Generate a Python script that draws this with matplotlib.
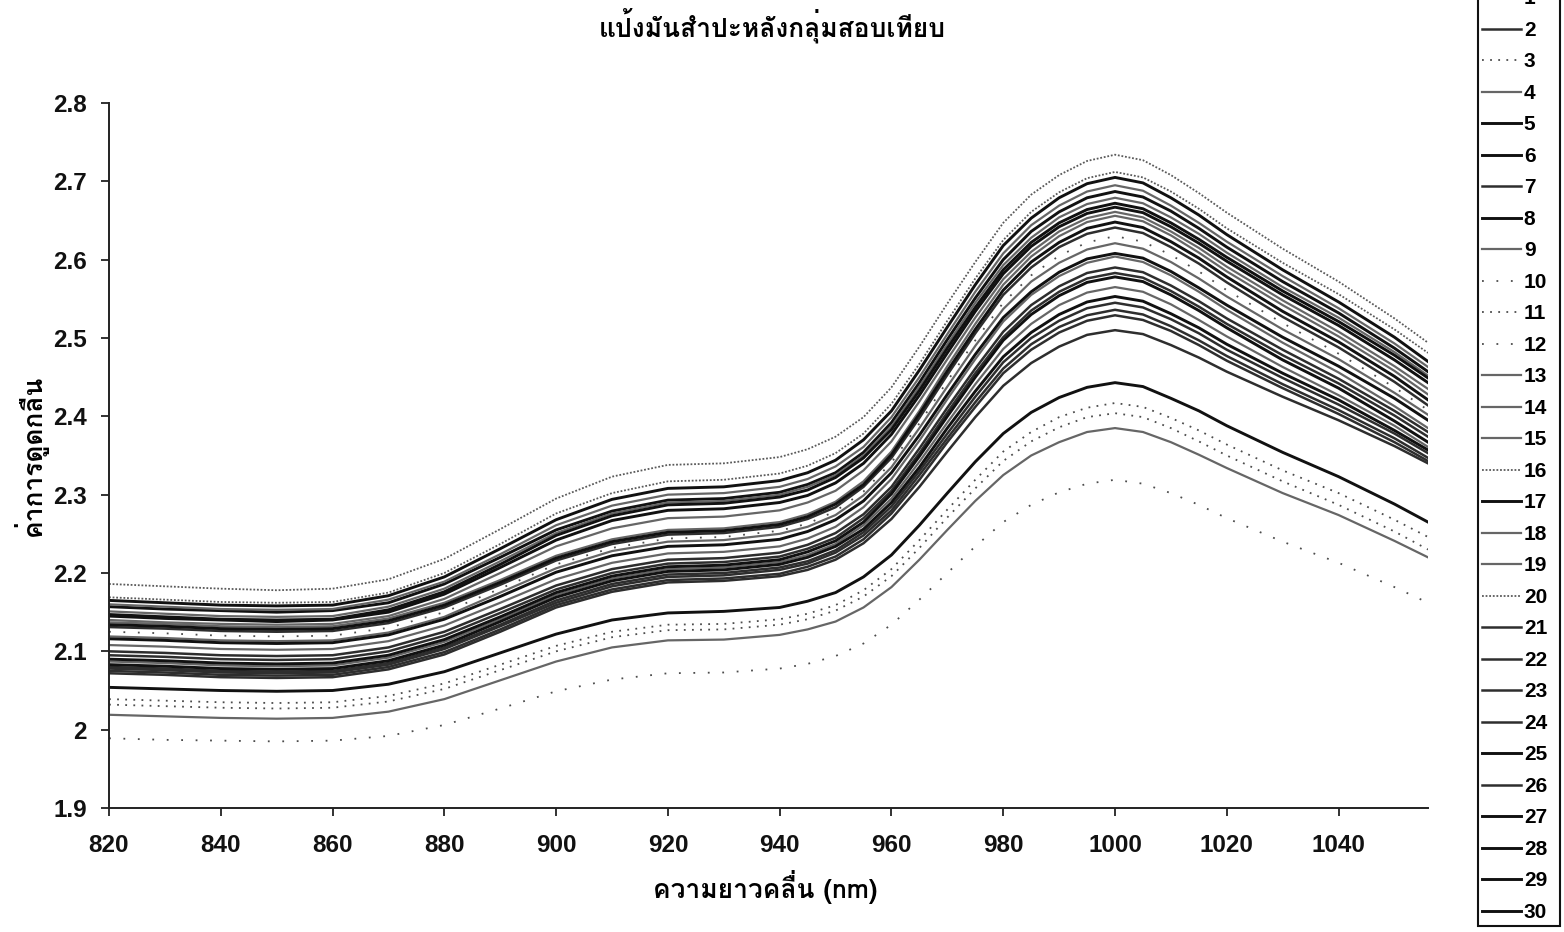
import matplotlib
matplotlib.use("Agg")
import matplotlib.pyplot as plt
from matplotlib import font_manager
from matplotlib.ft2font import FT2Font
from matplotlib.lines import Line2D
from matplotlib.ticker import MultipleLocator, FuncFormatter

# ความยาวคลื่น (nm)
wl = [820, 830, 840, 850, 860, 870, 880, 890, 900, 910, 920, 930, 940,
      945, 950, 955, 960, 965, 970, 975, 980, 985, 990, 995, 1000,
      1005, 1010, 1015, 1020, 1030, 1040, 1050, 1056]

# ค่าการดูดกลืนของแต่ละตัวอย่าง (อ่านจากกราฟ)
r1 = [2.140, 2.137, 2.135, 2.134, 2.135, 2.145, 2.167, 2.200, 2.234, 2.257, 2.270, 2.272, 2.280, 2.290, 2.305, 2.331, 2.368, 2.419, 2.473, 2.526, 2.575, 2.610, 2.636, 2.653, 2.661, 2.654, 2.636, 2.615, 2.591, 2.548, 2.508, 2.464, 2.435]
r2 = [2.078, 2.076, 2.073, 2.072, 2.073, 2.083, 2.103, 2.132, 2.162, 2.183, 2.195, 2.197, 2.204, 2.212, 2.226, 2.248, 2.280, 2.325, 2.372, 2.418, 2.461, 2.492, 2.514, 2.529, 2.536, 2.530, 2.515, 2.497, 2.477, 2.441, 2.408, 2.372, 2.347]
r3 = [2.039, 2.037, 2.035, 2.034, 2.035, 2.043, 2.059, 2.083, 2.107, 2.125, 2.134, 2.135, 2.141, 2.148, 2.159, 2.178, 2.205, 2.242, 2.281, 2.319, 2.355, 2.380, 2.399, 2.411, 2.417, 2.412, 2.398, 2.382, 2.364, 2.331, 2.302, 2.268, 2.246]
r4 = [2.019, 2.017, 2.015, 2.014, 2.015, 2.023, 2.039, 2.063, 2.087, 2.105, 2.114, 2.115, 2.121, 2.128, 2.138, 2.156, 2.182, 2.217, 2.255, 2.292, 2.325, 2.350, 2.367, 2.380, 2.385, 2.380, 2.367, 2.351, 2.334, 2.302, 2.274, 2.241, 2.220]
r5 = [2.165, 2.162, 2.159, 2.158, 2.159, 2.171, 2.195, 2.231, 2.268, 2.294, 2.308, 2.310, 2.318, 2.328, 2.344, 2.370, 2.407, 2.459, 2.514, 2.568, 2.618, 2.653, 2.679, 2.697, 2.705, 2.698, 2.679, 2.657, 2.632, 2.587, 2.546, 2.501, 2.470]
r6 = [2.145, 2.142, 2.140, 2.138, 2.140, 2.150, 2.173, 2.207, 2.242, 2.267, 2.280, 2.282, 2.290, 2.299, 2.315, 2.340, 2.377, 2.427, 2.481, 2.534, 2.582, 2.617, 2.642, 2.659, 2.667, 2.660, 2.642, 2.621, 2.598, 2.555, 2.516, 2.472, 2.443]
r7 = [2.100, 2.098, 2.095, 2.094, 2.095, 2.105, 2.125, 2.154, 2.184, 2.205, 2.217, 2.219, 2.226, 2.236, 2.251, 2.275, 2.310, 2.359, 2.411, 2.461, 2.508, 2.542, 2.566, 2.583, 2.590, 2.584, 2.567, 2.547, 2.525, 2.485, 2.448, 2.407, 2.380]
r8 = [2.157, 2.154, 2.152, 2.150, 2.152, 2.162, 2.186, 2.220, 2.255, 2.279, 2.293, 2.295, 2.303, 2.313, 2.328, 2.354, 2.392, 2.443, 2.498, 2.551, 2.600, 2.636, 2.661, 2.679, 2.687, 2.680, 2.662, 2.640, 2.616, 2.572, 2.532, 2.487, 2.457]
r9 = [2.151, 2.148, 2.145, 2.144, 2.145, 2.157, 2.180, 2.215, 2.251, 2.276, 2.290, 2.292, 2.300, 2.310, 2.325, 2.350, 2.387, 2.438, 2.492, 2.545, 2.593, 2.628, 2.654, 2.671, 2.679, 2.672, 2.654, 2.633, 2.609, 2.565, 2.526, 2.482, 2.452]
r10 = [2.125, 2.123, 2.120, 2.119, 2.120, 2.130, 2.150, 2.180, 2.211, 2.232, 2.244, 2.246, 2.254, 2.263, 2.279, 2.304, 2.341, 2.391, 2.445, 2.497, 2.545, 2.580, 2.605, 2.622, 2.630, 2.623, 2.606, 2.585, 2.561, 2.519, 2.480, 2.437, 2.408]
r11 = [2.032, 2.030, 2.028, 2.027, 2.028, 2.036, 2.052, 2.076, 2.100, 2.118, 2.127, 2.128, 2.134, 2.141, 2.152, 2.170, 2.196, 2.232, 2.271, 2.308, 2.343, 2.368, 2.386, 2.399, 2.404, 2.399, 2.385, 2.368, 2.350, 2.317, 2.287, 2.253, 2.230]
r12 = [1.989, 1.987, 1.986, 1.985, 1.986, 1.992, 2.006, 2.027, 2.049, 2.064, 2.072, 2.073, 2.078, 2.084, 2.094, 2.110, 2.134, 2.166, 2.200, 2.234, 2.265, 2.287, 2.303, 2.314, 2.319, 2.314, 2.302, 2.287, 2.270, 2.240, 2.213, 2.182, 2.162]
r13 = [2.137, 2.135, 2.132, 2.131, 2.132, 2.142, 2.162, 2.191, 2.222, 2.243, 2.255, 2.257, 2.265, 2.275, 2.291, 2.317, 2.355, 2.407, 2.464, 2.518, 2.568, 2.604, 2.630, 2.648, 2.656, 2.649, 2.631, 2.609, 2.585, 2.542, 2.502, 2.458, 2.428]
r14 = [2.160, 2.157, 2.154, 2.153, 2.154, 2.166, 2.189, 2.224, 2.261, 2.286, 2.300, 2.302, 2.310, 2.320, 2.336, 2.361, 2.399, 2.450, 2.505, 2.559, 2.608, 2.644, 2.669, 2.687, 2.695, 2.688, 2.669, 2.647, 2.623, 2.579, 2.538, 2.493, 2.463]
r15 = [2.108, 2.106, 2.103, 2.102, 2.103, 2.113, 2.133, 2.162, 2.192, 2.213, 2.225, 2.227, 2.234, 2.244, 2.259, 2.284, 2.320, 2.369, 2.422, 2.473, 2.521, 2.555, 2.579, 2.596, 2.604, 2.597, 2.580, 2.559, 2.536, 2.494, 2.456, 2.413, 2.385]
r16 = [2.186, 2.183, 2.180, 2.178, 2.180, 2.192, 2.218, 2.256, 2.295, 2.323, 2.338, 2.340, 2.348, 2.358, 2.374, 2.399, 2.437, 2.489, 2.544, 2.597, 2.647, 2.683, 2.708, 2.726, 2.734, 2.727, 2.708, 2.685, 2.660, 2.614, 2.572, 2.525, 2.494]
r17 = [2.054, 2.052, 2.050, 2.049, 2.050, 2.058, 2.074, 2.098, 2.122, 2.140, 2.149, 2.151, 2.156, 2.164, 2.175, 2.195, 2.223, 2.261, 2.302, 2.342, 2.378, 2.405, 2.424, 2.437, 2.443, 2.438, 2.423, 2.407, 2.388, 2.354, 2.323, 2.288, 2.265]
r18 = [2.119, 2.117, 2.114, 2.113, 2.114, 2.124, 2.144, 2.175, 2.206, 2.228, 2.240, 2.242, 2.250, 2.259, 2.274, 2.299, 2.335, 2.385, 2.438, 2.490, 2.537, 2.572, 2.596, 2.613, 2.621, 2.614, 2.597, 2.576, 2.553, 2.511, 2.473, 2.430, 2.402]
r19 = [2.087, 2.085, 2.082, 2.081, 2.082, 2.092, 2.112, 2.141, 2.172, 2.193, 2.205, 2.207, 2.214, 2.223, 2.237, 2.261, 2.295, 2.342, 2.392, 2.441, 2.486, 2.518, 2.542, 2.558, 2.565, 2.559, 2.543, 2.523, 2.502, 2.463, 2.427, 2.388, 2.361]
r20 = [2.169, 2.166, 2.163, 2.162, 2.163, 2.175, 2.200, 2.237, 2.276, 2.302, 2.317, 2.319, 2.327, 2.337, 2.353, 2.378, 2.416, 2.467, 2.522, 2.576, 2.625, 2.661, 2.686, 2.704, 2.712, 2.705, 2.687, 2.665, 2.640, 2.596, 2.556, 2.511, 2.481]
r21 = [2.080, 2.078, 2.075, 2.074, 2.075, 2.085, 2.105, 2.134, 2.165, 2.186, 2.198, 2.200, 2.207, 2.215, 2.229, 2.252, 2.285, 2.330, 2.378, 2.425, 2.469, 2.500, 2.522, 2.538, 2.545, 2.539, 2.524, 2.506, 2.485, 2.449, 2.415, 2.378, 2.353]
r22 = [2.131, 2.129, 2.126, 2.125, 2.126, 2.136, 2.156, 2.185, 2.216, 2.237, 2.249, 2.251, 2.259, 2.269, 2.284, 2.310, 2.347, 2.398, 2.453, 2.506, 2.555, 2.590, 2.616, 2.633, 2.641, 2.634, 2.616, 2.595, 2.571, 2.527, 2.488, 2.444, 2.414]
r23 = [2.072, 2.070, 2.067, 2.066, 2.067, 2.077, 2.096, 2.125, 2.156, 2.176, 2.188, 2.190, 2.196, 2.204, 2.217, 2.238, 2.269, 2.310, 2.355, 2.399, 2.439, 2.468, 2.489, 2.504, 2.510, 2.505, 2.491, 2.475, 2.457, 2.425, 2.395, 2.362, 2.340]
r24 = [2.095, 2.093, 2.090, 2.089, 2.090, 2.100, 2.120, 2.149, 2.179, 2.200, 2.212, 2.214, 2.221, 2.231, 2.245, 2.270, 2.305, 2.353, 2.405, 2.455, 2.501, 2.535, 2.559, 2.576, 2.583, 2.577, 2.560, 2.540, 2.518, 2.478, 2.442, 2.401, 2.374]
r25 = [2.083, 2.081, 2.078, 2.077, 2.078, 2.088, 2.108, 2.138, 2.169, 2.190, 2.202, 2.204, 2.211, 2.220, 2.234, 2.256, 2.290, 2.335, 2.385, 2.432, 2.476, 2.507, 2.530, 2.546, 2.553, 2.547, 2.531, 2.513, 2.492, 2.455, 2.421, 2.382, 2.357]
r26 = [2.075, 2.073, 2.070, 2.069, 2.070, 2.080, 2.099, 2.128, 2.159, 2.179, 2.191, 2.193, 2.199, 2.208, 2.221, 2.243, 2.276, 2.319, 2.367, 2.412, 2.455, 2.485, 2.507, 2.522, 2.529, 2.523, 2.509, 2.491, 2.471, 2.436, 2.403, 2.367, 2.343]
r27 = [2.147, 2.144, 2.141, 2.140, 2.141, 2.153, 2.176, 2.211, 2.248, 2.273, 2.287, 2.289, 2.297, 2.306, 2.322, 2.347, 2.383, 2.433, 2.487, 2.539, 2.587, 2.622, 2.647, 2.664, 2.672, 2.665, 2.647, 2.626, 2.603, 2.560, 2.521, 2.478, 2.449]
r28 = [2.116, 2.114, 2.111, 2.110, 2.111, 2.121, 2.141, 2.170, 2.201, 2.222, 2.234, 2.236, 2.243, 2.253, 2.268, 2.292, 2.328, 2.376, 2.428, 2.479, 2.526, 2.559, 2.584, 2.601, 2.608, 2.602, 2.585, 2.564, 2.542, 2.501, 2.464, 2.423, 2.395]
r29 = [2.134, 2.132, 2.129, 2.128, 2.129, 2.139, 2.159, 2.188, 2.219, 2.240, 2.252, 2.254, 2.262, 2.272, 2.288, 2.313, 2.351, 2.403, 2.458, 2.511, 2.561, 2.597, 2.622, 2.640, 2.648, 2.641, 2.623, 2.602, 2.578, 2.534, 2.495, 2.451, 2.421]
r30 = [2.090, 2.088, 2.085, 2.084, 2.085, 2.095, 2.115, 2.144, 2.175, 2.196, 2.208, 2.210, 2.217, 2.227, 2.241, 2.265, 2.301, 2.349, 2.400, 2.450, 2.497, 2.530, 2.554, 2.571, 2.578, 2.572, 2.555, 2.535, 2.513, 2.472, 2.436, 2.394, 2.367]

samples = [r1, r2, r3, r4, r5, r6, r7, r8, r9, r10, r11, r12, r13, r14, r15,
           r16, r17, r18, r19, r20, r21, r22, r23, r24, r25, r26, r27, r28, r29, r30]
labels = [str(i) for i in range(1, 31)]

# รูปแบบเส้น
styles = {
    "black":  dict(color="#111111", lw=2.1, ls="-"),
    "dark":   dict(color="#2e2e2e", lw=1.8, ls="-"),
    "gray":   dict(color="#666666", lw=1.6, ls="-"),
    "dotted": dict(color="#5a5a5a", lw=1.3, ls=(0, (1, 1))),
    "sparse": dict(color="#4c4c4c", lw=1.3, ls=(0, (1, 3.5))),
    "vsparse": dict(color="#4c4c4c", lw=1.3, ls=(0, (1, 7))),
}
kind = ["gray", "dark", "sparse", "gray", "black", "black", "dark", "black", "gray", "vsparse",
        "sparse", "vsparse", "gray", "gray", "gray", "dotted", "black", "gray", "gray", "dotted",
        "dark", "dark", "dark", "dark", "black", "dark", "black", "black", "black", "black"]


def thai_family():
    # หาฟอนต์ที่มีอักษรไทย
    for f in font_manager.fontManager.ttflist:
        try:
            cmap = FT2Font(f.fname).get_charmap()
        except Exception:
            continue
        if 0x0E01 in cmap and 0x0E2A in cmap:
            return f.name
    return "DejaVu Sans"


thai = thai_family()
latin = "Liberation Sans"

fig = plt.figure(figsize=(15.64, 9.32), dpi=100)
ax = fig.add_axes([109 / 1564, 1 - 808 / 932, (1428 - 109) / 1564, (808 - 103) / 932])

handles = []
for vals, k in zip(samples, kind):
    st = styles[k]
    ax.plot(wl, vals, color=st["color"], lw=st["lw"], ls=st["ls"], solid_joinstyle="round")
    handles.append(Line2D([], [], color=st["color"], lw=st["lw"], ls=st["ls"]))

ax.set_xlim(820, 1056)
ax.set_ylim(1.9, 2.8)
ax.set_xticks(range(820, 1041, 20))
ax.yaxis.set_major_locator(MultipleLocator(0.1))
ax.yaxis.set_major_formatter(FuncFormatter(lambda v, p: f"{v:g}"))

for side in ["top", "right"]:
    ax.spines[side].set_visible(False)
for side in ["left", "bottom"]:
    ax.spines[side].set_linewidth(1.4)
    ax.spines[side].set_color("#222222")

ax.tick_params(axis="both", direction="out", length=5.5, width=1.3, color="#222222")
ax.tick_params(axis="y", pad=10.5)
ax.tick_params(axis="x", pad=13)
for t in ax.get_xticklabels() + ax.get_yticklabels():
    t.set_fontfamily(latin)
    t.set_fontweight("bold")
    t.set_fontsize(17.5)
    t.set_color("#111111")

fig.text(772 / 1564, 1 - 26 / 932, "แป้งมันสำปะหลังกลุ่มสอบเทียบ", ha="center", va="center",
         fontsize=19, fontweight="bold", family=[thai, latin])
fig.text(765 / 1564, 1 - 887 / 932, "ความยาวคลื่น (nm)", ha="center", va="center",
         fontsize=19, fontweight="bold", family=[thai, latin])
fig.text(30 / 1564, 1 - 455 / 932, "ค่าการดูดกลืน", ha="center", va="center", rotation=90,
         fontsize=19, fontweight="bold", family=[thai, latin])

# คำอธิบายเส้น: ด้านบนล้นขอบรูปเหมือนต้นฉบับ
leg = fig.legend(handles, labels, loc="lower left",
                 bbox_to_anchor=(1478 / 1564, 1 - 926 / 932, (1560 - 1478) / 1564, 0),
                 mode="expand", borderaxespad=0, borderpad=0.2, labelspacing=0.60,
                 handlelength=1.85, handletextpad=0.15, fancybox=False, framealpha=1,
                 edgecolor="#111111", prop=dict(family=latin, weight="bold", size=15))
leg.get_frame().set_linewidth(1.5)

fig.savefig("out.png", dpi=100, facecolor="white")
